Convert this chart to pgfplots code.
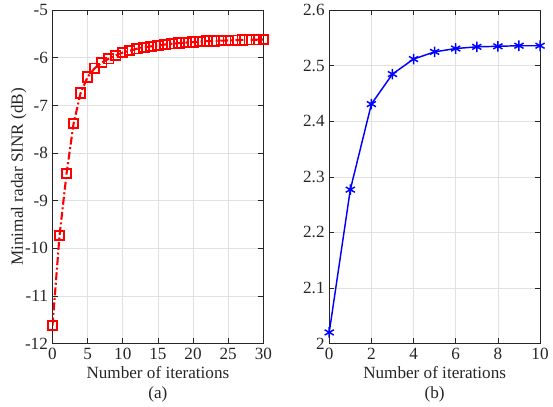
\documentclass[border=0pt]{standalone}
\usepackage{fontspec}
\setmainfont{Liberation Serif}
\usepackage{pgfplots}
\pgfplotsset{compat=1.18}
\definecolor{axgray}{RGB}{38,38,38}
\definecolor{gridgray}{RGB}{225,225,225}
\pgfplotsset{
  mstyle/.style={
    scale only axis,
    width=160pt, height=253pt,
    font=\fontsize{13}{15}\selectfont,
    /pgf/number format/assume math mode=true,
    axis line style={axgray, line width=0.5pt},
    tick style={axgray, line width=0.5pt},
    tick align=inside,
    major tick length=4pt,
    ticklabel style={text=axgray},
    grid=major,
    major grid style={gridgray, line width=0.5pt},
    xlabel style={align=center, text=axgray, yshift=2pt},
    ylabel style={text=axgray},
  },
}
\begin{document}
\begin{tikzpicture}
\begin{axis}[mstyle,
  at={(0pt,0pt)}, anchor=south west,
  xmin=0, xmax=30, ymin=-12, ymax=-5,
  xtick={0,5,...,30}, ytick={-12,-11,...,-5},
  xlabel={Number of iterations\\(a)},
  ylabel={Minimal radar SINR (dB)},
  ylabel style={yshift=-8pt},
]
\addplot[red, line width=1.6pt, dash pattern=on 6pt off 2pt on 1.5pt off 2pt,
  mark=square, mark size=3.6pt, mark options={solid, line width=1.4pt}]
coordinates {
(0,-11.62) (1,-9.73) (2,-8.43) (3,-7.38) (4,-6.74) (5,-6.40) (6,-6.22)
(7,-6.10) (8,-6.02) (9,-5.95) (10,-5.89) (11,-5.85) (12,-5.81) (13,-5.78)
(14,-5.76) (15,-5.74) (16,-5.72) (17,-5.705) (18,-5.69) (19,-5.68)
(20,-5.67) (21,-5.66) (22,-5.65) (23,-5.645) (24,-5.64) (25,-5.635)
(26,-5.63) (27,-5.625) (28,-5.62) (29,-5.62) (30,-5.615)
};
\end{axis}
\begin{axis}[mstyle,
  at={(210pt,0pt)}, anchor=south west,
  xmin=0, xmax=10, ymin=2, ymax=2.6,
  xtick={0,2,...,10}, ytick={2,2.1,...,2.6},
  xlabel={Number of iterations\\(b)},
  yticklabel style={/pgf/number format/fixed},
]
\addplot[blue, line width=1.1pt, mark=asterisk, mark size=4pt,
  mark options={line width=1.1pt}]
coordinates {
(0,2.020) (1,2.277) (2,2.431) (3,2.485) (4,2.512) (5,2.525) (6,2.531)
(7,2.534) (8,2.535) (9,2.536) (10,2.536)
};
\end{axis}
\path ([xshift=-5pt]current bounding box.west);
\end{tikzpicture}
\end{document}
